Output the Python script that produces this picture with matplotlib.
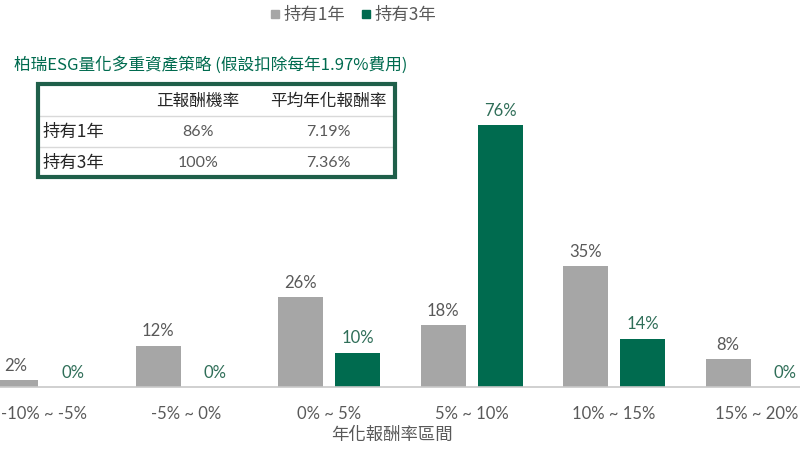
import matplotlib.pyplot as plt
import matplotlib.patches as patches
import numpy as np

plt.rcParams['font.family'] = ['Noto Sans CJK TC', 'DejaVu Sans']
NUM_FONT = ['Lato', 'Noto Sans CJK TC', 'DejaVu Sans']

categories = ['-10% ~ -5%', '-5% ~ 0%', '0% ~ 5%', '5% ~ 10%', '10% ~ 15%', '15% ~ 20%']
hold_1y = [2, 12, 26, 18, 35, 8]
hold_3y = [0, 0, 10, 76, 14, 0]
series_names = ['持有1年', '持有3年']

title = '柏瑞ESG量化多重資產策略 (假設扣除每年1.97%費用)'
table_cols = ['正報酬機率', '平均年化報酬率']
table_rows = ['持有1年', '持有3年']
table_vals = [['86%', '7.19%'], ['100%', '7.36%']]
xlabel = '年化報酬率區間'

GRAY = '#A6A6A6'
GREEN = '#006B4F'
TEXT_GRAY = '#595959'
LABEL_GREEN = '#2F6E58'

fig = plt.figure(figsize=(8, 4.5), dpi=100)
ax = fig.add_axes([0, 0.14, 1, 0.6133])

x = np.arange(len(categories))
w = 0.316
off = 0.2
ax.bar(x - off, hold_1y, w, color=GRAY)
ax.bar(x + off, hold_3y, w, color=GREEN)

for i in range(len(categories)):
    ax.text(x[i] - off, hold_1y[i] + 1.8, f'{hold_1y[i]}%', ha='center', va='bottom',
            fontsize=12, color=TEXT_GRAY, family=NUM_FONT)
    ax.text(x[i] + off, hold_3y[i] + 1.8, f'{hold_3y[i]}%', ha='center', va='bottom',
            fontsize=12, color=LABEL_GREEN, family=NUM_FONT)

ax.set_xlim(-0.309, 5.305)
ax.set_ylim(0, 80)
ax.set_xticks(x)
ax.set_xticklabels(categories, fontsize=12, color=TEXT_GRAY, family=NUM_FONT)
ax.tick_params(axis='x', length=0, pad=14)
ax.set_yticks([])
for s in ['top', 'left', 'right']:
    ax.spines[s].set_visible(False)
ax.spines['bottom'].set_color('#C8C8C8')
ax.spines['bottom'].set_linewidth(1.2)
ax.set_xlabel(xlabel, fontsize=12.5, color=TEXT_GRAY, va='center')
ax.xaxis.set_label_coords(392 / 800, -48 / 276)

# legend at top
fig.patches.append(patches.Rectangle((271 / 800, 1 - 18 / 450), 8 / 800, 8 / 450,
                                     transform=fig.transFigure, color=GRAY))
fig.text(284 / 800, 1 - 15 / 450, series_names[0], fontsize=12.5, color=TEXT_GRAY, va='center')
fig.patches.append(patches.Rectangle((362 / 800, 1 - 18 / 450), 8 / 800, 8 / 450,
                                     transform=fig.transFigure, color=GREEN))
fig.text(375 / 800, 1 - 15 / 450, series_names[1], fontsize=12.5, color=TEXT_GRAY, va='center')

# title and summary table
fig.text(14 / 800, 1 - 65 / 450, title, fontsize=12, color=GREEN, va='center')

box_l, box_r, box_t, box_b = 38, 395, 84, 177
fig.patches.append(patches.Rectangle((box_l / 800, 1 - box_b / 450),
                                     (box_r - box_l) / 800, (box_b - box_t) / 450,
                                     transform=fig.transFigure, fill=False,
                                     edgecolor='#1F5F4A', linewidth=3, zorder=5))
for yl in [116, 147]:
    fig.add_artist(plt.Line2D([box_l / 800, box_r / 800], [1 - yl / 450, 1 - yl / 450],
                              transform=fig.transFigure, color='#D9D9D9', linewidth=1))
row_y = [101, 132, 163]
col_x = [198, 328]
for j, c in enumerate(table_cols):
    fig.text(col_x[j] / 800, 1 - row_y[0] / 450, c, fontsize=12, color='#262626',
             ha='center', va='center')
for i, r in enumerate(table_rows):
    fig.text(43 / 800, 1 - row_y[i + 1] / 450, r, fontsize=12.5, color='#262626', va='center')
    for j in range(len(table_cols)):
        fig.text(col_x[j] / 800, 1 - row_y[i + 1] / 450, table_vals[i][j], fontsize=11.5,
                 color=TEXT_GRAY, ha='center', va='center', family=NUM_FONT)

fig.savefig('out.png', dpi=100)
